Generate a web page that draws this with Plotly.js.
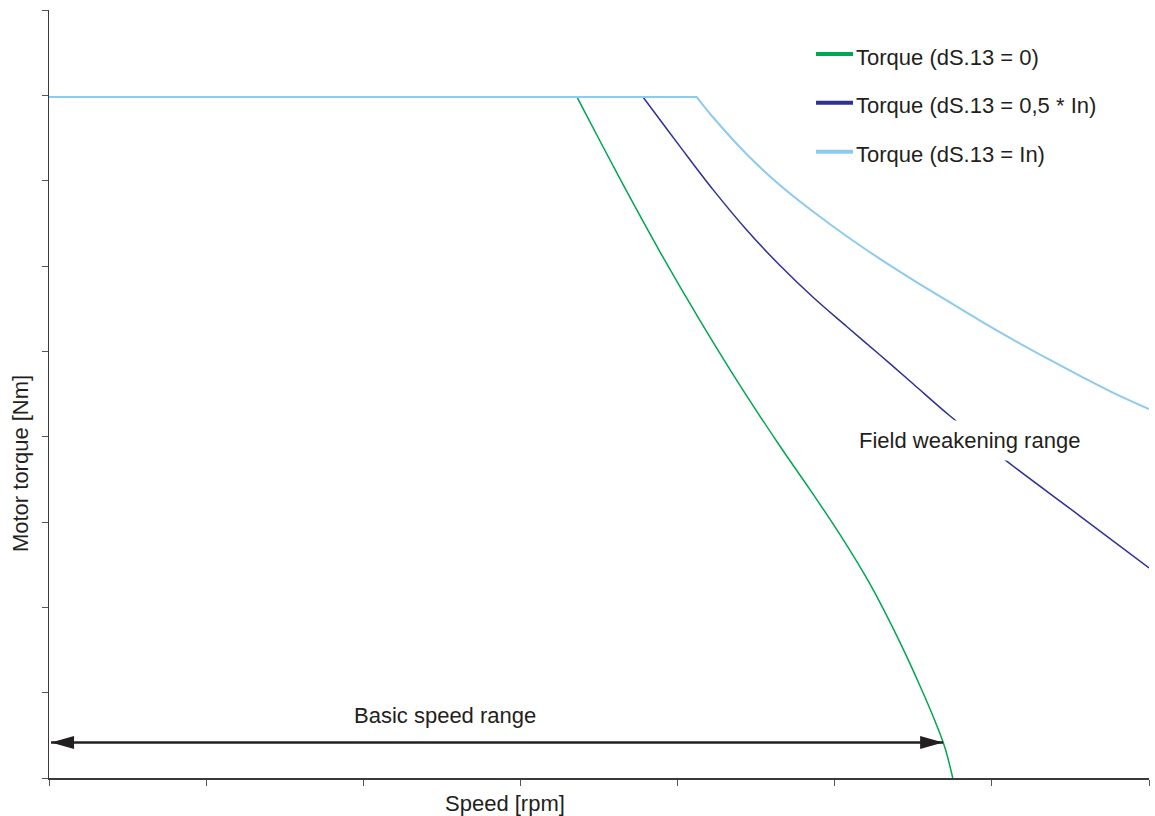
<!DOCTYPE html>
<html>
<head>
<meta charset="utf-8">
<script src="https://cdn.plot.ly/plotly-3.0.1.min.js"></script>
<style>html,body{margin:0;padding:0;background:#fff;}#chart{width:1155px;height:816px;}</style>
</head>
<body>
<div id="chart"></div>
<script>
// Speed (axis units, 7 tick intervals) and motor torque (axis units, 9 tick intervals)
// (corner points are listed twice so the smoothed line keeps a sharp knee)
const speed0 = [0, 3.360, 3.360, 3.634, 3.888, 4.143, 4.397, 4.652, 4.843, 5.034, 5.225, 5.416, 5.543, 5.638, 5.702, 5.751];
const torque0 = [7.98, 7.98, 7.98, 7.020, 6.166, 5.360, 4.601, 3.888, 3.379, 2.851, 2.271, 1.586, 1.078, 0.668, 0.352, 0.0];

const speedHalf = [0, 3.780, 3.780, 4.016, 4.227, 4.440, 4.652, 4.864, 5.076, 5.288, 5.500, 5.734, 6.084, 6.561, 7.0];
const torqueHalf = [7.98, 7.98, 7.98, 7.399, 6.892, 6.422, 6.005, 5.630, 5.291, 4.957, 4.617, 4.242, 3.727, 3.070, 2.461];

const speedIn = [0, 4.122, 4.122, 4.227, 4.440, 4.652, 4.864, 5.076, 5.288, 5.500, 5.713, 5.925, 6.137, 6.349, 6.561, 6.773, 7.0];
const torqueIn = [7.98, 7.98, 7.98, 7.740, 7.310, 6.947, 6.635, 6.349, 6.084, 5.835, 5.596, 5.361, 5.135, 4.920, 4.713, 4.514, 4.324];

const seriesNames = ['Torque (dS.13 = 0)', 'Torque (dS.13 = 0,5 * In)', 'Torque (dS.13 = In)'];
const seriesColors = ['#00A651', '#2E3192', '#8DCBEE'];

const basicRange = [0.013, 5.69];   // arrow ends (speed)
const basicRangeTorque = 0.416;     // arrow height (torque)

const FONT = 'Liberation Sans, Arial, sans-serif';
const TXT = '#231f20';
const FS = 22;

const traces = [
  {x: speed0, y: torque0, mode: 'lines', name: seriesNames[0], line: {color: seriesColors[0], width: 1.5, shape: 'spline', smoothing: 1}},
  {x: speedHalf, y: torqueHalf, mode: 'lines', name: seriesNames[1], line: {color: seriesColors[1], width: 1.5, shape: 'spline', smoothing: 1}},
  {x: speedIn, y: torqueIn, mode: 'lines', name: seriesNames[2], line: {color: seriesColors[2], width: 2, shape: 'spline', smoothing: 1}}
];

// manual legend
const legY = [0.9427, 0.8793, 0.8155];
const legendShapes = seriesNames.map((n, i) => ({
  type: 'line', xref: 'paper', yref: 'paper', x0: 0.6973, x1: 0.7309, y0: legY[i], y1: legY[i],
  line: {color: seriesColors[i], width: 4}
}));
const legendAnn = seriesNames.map((n, i) => ({
  xref: 'paper', yref: 'paper', x: 0.7318, y: legY[i] - 0.004, xanchor: 'left', yanchor: 'middle',
  text: n, showarrow: false, font: {family: FONT, size: FS, color: TXT}
}));

const layout = {
  width: 1155, height: 816,
  margin: {l: 49, r: 6, t: 10, b: 38},
  paper_bgcolor: '#ffffff', plot_bgcolor: '#ffffff',
  showlegend: false,
  font: {family: FONT, size: FS, color: TXT},
  xaxis: {range: [0, 7], dtick: 1, tick0: 0, showticklabels: false, ticks: 'outside', ticklen: 6, tickcolor: '#555', tickwidth: 1,
          showline: true, linecolor: '#3a3a3a', linewidth: 1.5, showgrid: false, zeroline: false, fixedrange: true},
  yaxis: {range: [0, 9], dtick: 1, tick0: 0, showticklabels: false, ticks: 'outside', ticklen: 6, tickcolor: '#555', tickwidth: 1,
          showline: true, linecolor: '#3a3a3a', linewidth: 1.5, showgrid: false, zeroline: false, fixedrange: true},
  shapes: [
    {type: 'line', xref: 'x', yref: 'y', x0: basicRange[0], x1: basicRange[1], y0: basicRangeTorque, y1: basicRangeTorque,
     line: {color: TXT, width: 2.5}},
    {type: 'path', xref: 'x', yref: 'y', xsizemode: 'pixel', ysizemode: 'pixel', xanchor: basicRange[0], yanchor: basicRangeTorque,
     path: 'M0,0L23,6.5L23,-6.5Z', fillcolor: TXT, line: {width: 0}},
    {type: 'path', xref: 'x', yref: 'y', xsizemode: 'pixel', ysizemode: 'pixel', xanchor: basicRange[1], yanchor: basicRangeTorque,
     path: 'M0,0L-23,6.5L-23,-6.5Z', fillcolor: TXT, line: {width: 0}}
  ].concat(legendShapes),
  annotations: [
    {xref: 'x', yref: 'y', x: 2.52, y: 0.73, text: 'Basic speed range', showarrow: false,
     font: {family: FONT, size: FS, color: TXT}},
    {xref: 'x', yref: 'y', x: 5.855, y: 3.96, text: 'Field weakening range', showarrow: false,
     bgcolor: '#ffffff', borderpad: 7, font: {family: FONT, size: FS, color: TXT}},
    {xref: 'paper', yref: 'paper', x: 0.4145, y: -0.033, text: 'Speed [rpm]', showarrow: false,
     xanchor: 'center', yanchor: 'middle', font: {family: FONT, size: FS, color: TXT}},
    {xref: 'paper', yref: 'paper', x: -0.0264, y: 0.41, text: 'Motor torque [Nm]', showarrow: false, textangle: -90,
     xanchor: 'center', yanchor: 'middle', font: {family: FONT, size: FS, color: TXT}}
  ].concat(legendAnn)
};

Plotly.newPlot('chart', traces, layout, {displayModeBar: false, staticPlot: true});
</script>
</body>
</html>
